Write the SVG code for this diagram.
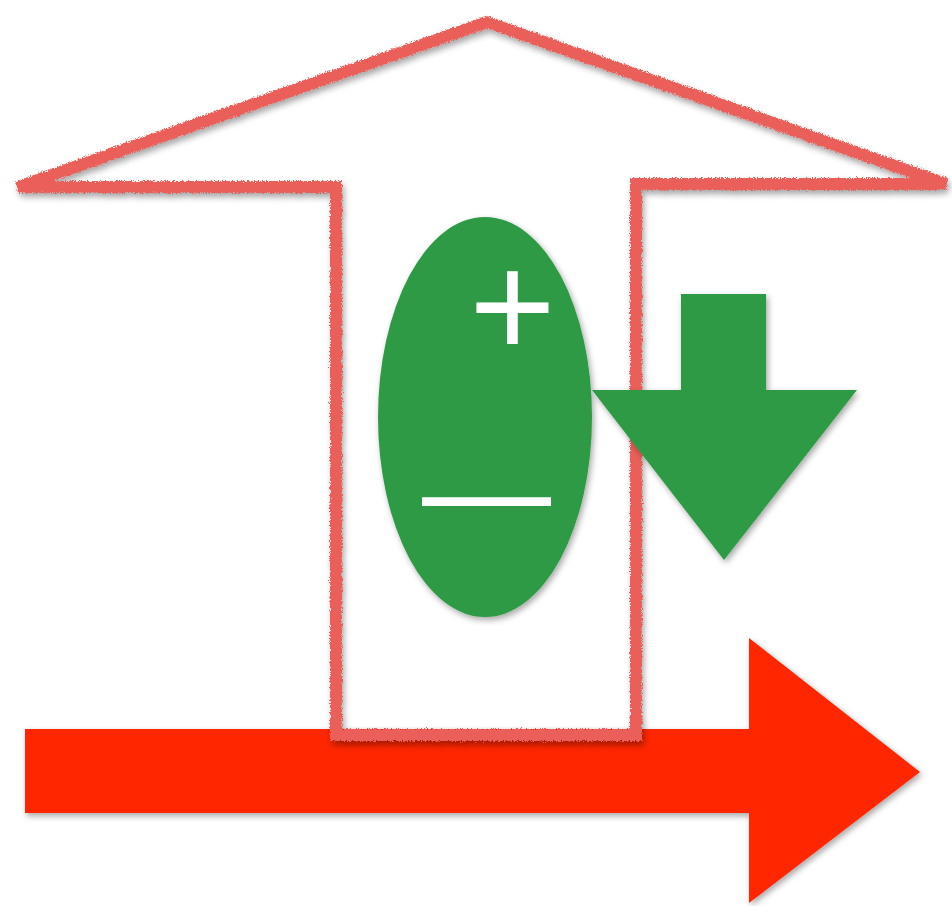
<svg xmlns="http://www.w3.org/2000/svg" width="952" height="906" viewBox="0 0 952 906">
  <defs>
    <filter id="shadow" x="-10%" y="-10%" width="130%" height="130%">
      <feDropShadow dx="2" dy="3" stdDeviation="3" flood-color="#000" flood-opacity="0.35"/>
    </filter>
    <filter id="crayon" x="-5%" y="-5%" width="110%" height="110%">
      <feTurbulence type="fractalNoise" baseFrequency="1.2" numOctaves="2" seed="3" result="noise"/>
      <feDisplacementMap in="SourceGraphic" in2="noise" scale="5" xChannelSelector="R" yChannelSelector="G" result="rough"/>
      <feDropShadow in="rough" dx="2" dy="4" stdDeviation="3" flood-color="#000" flood-opacity="0.35"/>
    </filter>
  </defs>
  <style>
    .house { fill: none; stroke: #EA5F5A; stroke-width: 12; stroke-linejoin: miter; }
    .green { fill: #2F9A45; }
    .red { fill: #FF2600; }
    .sign { fill: #FFFFFF; font-family: "Liberation Sans", Arial, sans-serif; text-anchor: middle; }
  </style>

  <g id="flow-arrow" filter="url(#shadow)">
    <polygon class="red" points="25,729 749,729 749,638 920,772 749,903 749,813 25,813"/>
  </g>

  <g id="house" filter="url(#crayon)">
    <path class="house" d="M 336,735 L 336,187 L 18,187 L 487,22 L 946,184 L 636,184 L 636,735 Z"/>
  </g>

  <g id="charge">
    <ellipse class="green" cx="485" cy="417" rx="107" ry="200" filter="url(#shadow)"/>
    <text class="sign" x="512.5" y="357" font-size="148">+</text>
    <text class="sign" x="486.5" y="535" font-size="129">—</text>
  </g>

  <g id="down-arrow" filter="url(#shadow)">
    <polygon class="green" points="681,294 766,294 766,390 857,390 724,560 592,390 681,390"/>
  </g>
</svg>
